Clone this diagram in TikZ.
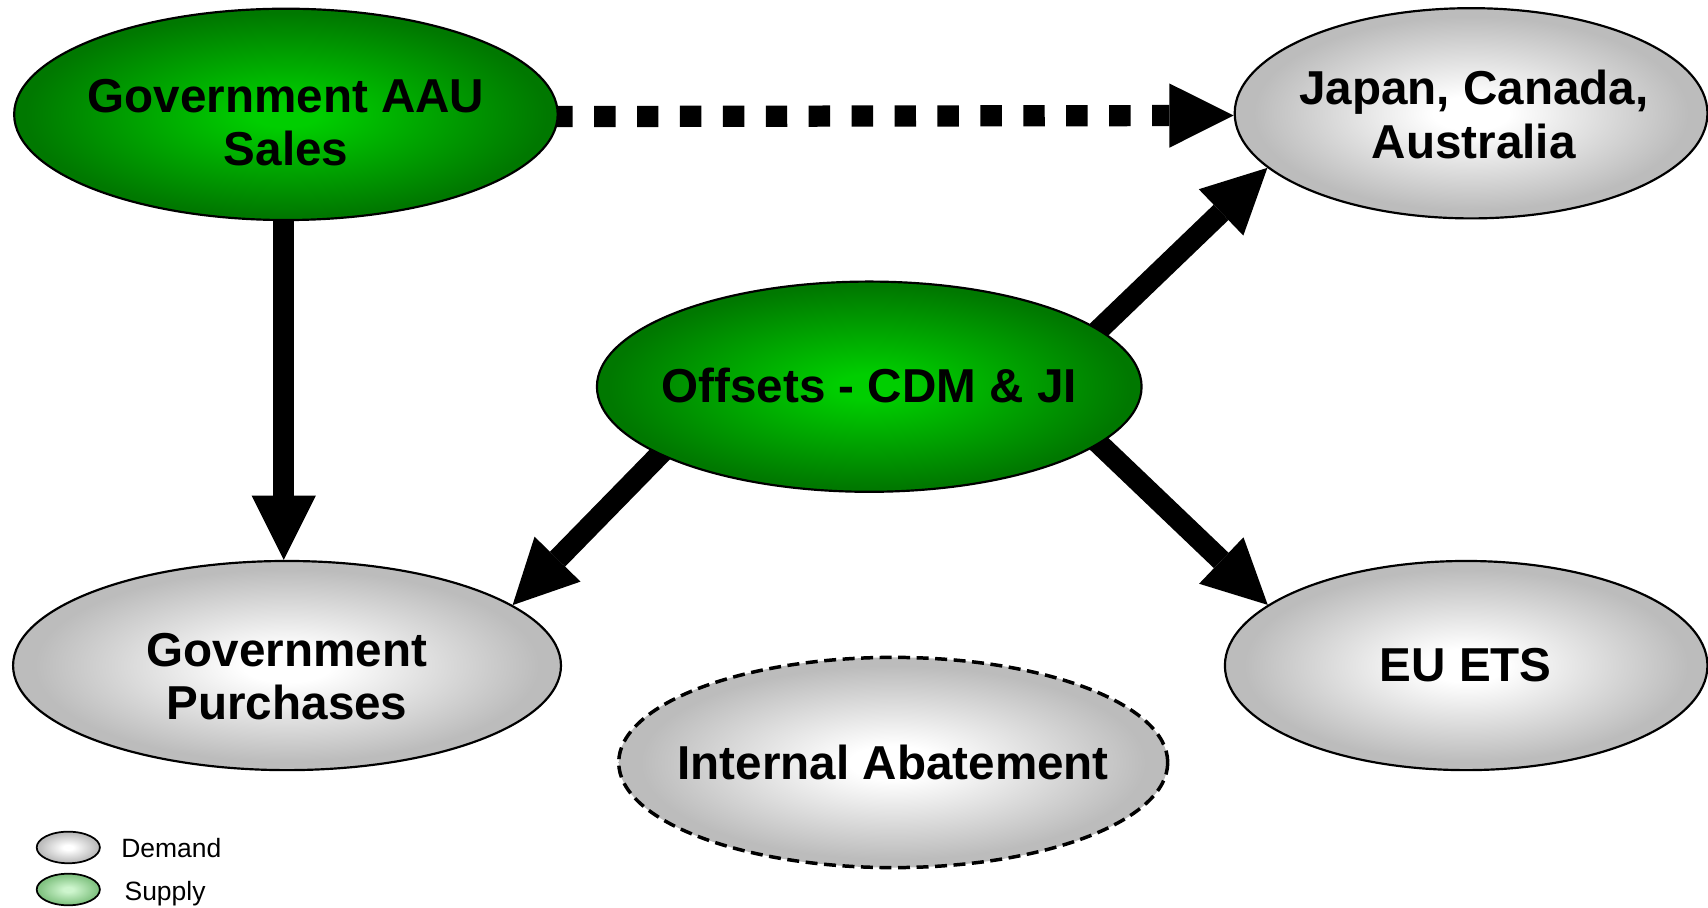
\documentclass[tikz,border=0pt]{standalone}
\usepackage{fontspec}
\setmainfont{Liberation Sans}
\usetikzlibrary{shapes.geometric,arrows.meta,backgrounds}
\definecolor{grnin}{RGB}{0,206,0}
\definecolor{grnout}{RGB}{0,120,0}
\definecolor{gryout}{RGB}{188,188,188}
\definecolor{supin}{RGB}{205,245,205}
\definecolor{supout}{RGB}{130,195,130}
\pgfdeclareradialshading{greenfill}{\pgfpointorigin}{color(0bp)=(grnin); color(3bp)=(grnin); color(24bp)=(grnout); color(25bp)=(grnout); color(50bp)=(grnout)}
\pgfdeclareradialshading{grayfill}{\pgfpointorigin}{color(0bp)=(white); color(4bp)=(white); color(23bp)=(gryout); color(25bp)=(gryout); color(50bp)=(gryout)}
\pgfdeclareradialshading{supfill}{\pgfpointorigin}{color(0bp)=(supin); color(4bp)=(supin); color(23bp)=(supout); color(25bp)=(supout); color(50bp)=(supout)}
\begin{document}
\begin{tikzpicture}[x=0.5pt,y=-0.5pt,
  blob/.style={ellipse, draw=black, line width=1pt, inner sep=0pt, shade},
  supply/.style={blob, shading=greenfill},
  demand/.style={blob, shading=grayfill},
  lbl/.style={font=\bfseries\fontsize{21.85pt}{24.5pt}\selectfont, align=center, inner sep=0pt, text=black},
  leg/.style={font=\fontsize{12.15pt}{14pt}\selectfont, inner sep=0pt, anchor=base west},
  flow/.style={line width=9.75pt, -{Triangle[length=29.5pt,width=29.5pt,line width=0pt]}, shorten <=-6pt},
]
\useasboundingbox (0,0) rectangle (1568,833);

% ellipses
\node[supply, minimum width=249.5pt, minimum height=97pt] (aau) at (262.5,105) {};
\node[demand, minimum width=217pt, minimum height=96.5pt] (jap) at (1350.5,104) {};
\node[supply, minimum width=250pt, minimum height=96.5pt] (off) at (798,355) {};
\node[demand, minimum width=251.5pt, minimum height=96pt] (gp) at (263.5,611) {};
\node[demand, minimum width=221.5pt, minimum height=96pt] (eu) at (1346,611) {};
\node[demand, dash pattern=on 5.5pt off 3pt, line width=1.6pt, minimum width=252pt, minimum height=96.5pt] (ia) at (820,700) {};

% labels
\node[lbl] (aaut) at (262.6,112.5) {Government AAU\\Sales};
\node[lbl] (japt) at (1353,105) {Japan, Canada,\\Australia};
\node[lbl] (offt) at (798,354) {Offsets - CDM \& JI};
\node[lbl] (gpt) at (263.5,621) {Government\\Purchases};
\node[lbl] (eut) at (1345.6,610.5) {EU ETS};
\node[lbl] (iat) at (820,700) {Internal Abatement};

% legend
\node[demand, line width=0.8pt, minimum width=29pt, minimum height=14.5pt] (dem) at (62.7,778) {};
\node[leg] (demt) at (111,787) {Demand};
\node[blob, shading=supfill, line width=0.8pt, minimum width=29pt, minimum height=14.5pt] (sup) at (62.7,816.6) {};
\node[leg] (supt) at (114,826.8) {Supply};

% connectors
\begin{pgfonlayer}{background}
\draw[flow, dash pattern=on 9.85pt off 9.85pt, shorten <=-3.5pt] ([yshift=-1pt]aau.east) -- ([yshift=-1pt]jap.west);
\draw[flow] ([xshift=-1pt]aau.south) -- ([xshift=-1pt]aau.south |- gp.north);
\draw[flow] (off.14.5) -- (jap.195.6);
\draw[flow] (off.-14.5) -- (eu.163);
\draw[flow] (off.198.75) -- (gp.15.2);
\end{pgfonlayer}
\end{tikzpicture}
\end{document}
